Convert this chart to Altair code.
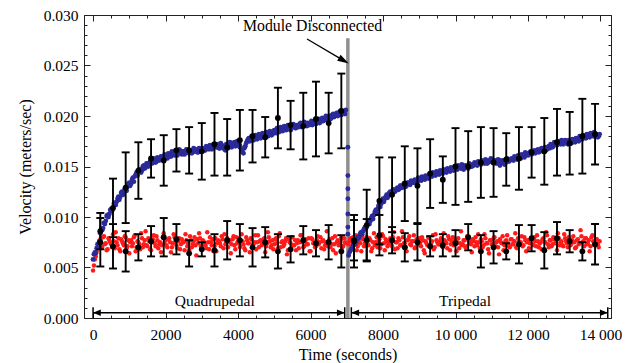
import altair as alt
import numpy as np
import pandas as pd

FONT = "Liberation Serif, Times New Roman, serif"
U = 1e-4  # all velocity lists below are written in units of 1e-4 m/s

# ---------------- raw samples (velocity x 1e-4 m/s) ----------------
# two interleaved sample sets per phase: "a" at t = 0, 50, ...  and "b" at t = 25, 75, ...
blue_quad_a = [
    58, 65, 69, 73, 84, 87, 94, 96, 102, 103, 108, 109, 114, 115, 120, 120, 125, 125, 129, 130,
    134, 133, 139, 140, 144, 144, 147, 146, 151, 149, 153, 152, 156, 154, 157, 155, 158, 157, 160, 158,
    161, 158, 162, 160, 164, 161, 165, 163, 166, 162, 165, 164, 167, 163, 166, 164, 165, 167, 164, 166,
    165, 168, 166, 169, 167, 170, 168, 171, 169, 172, 168, 171, 170, 166, 172, 170, 173, 171, 174, 172,
    175, 171, 166, 163, 170, 175, 178, 176, 179, 177, 180, 178, 181, 179, 182, 180, 183, 181, 184, 182,
    186, 183, 187, 185, 188, 186, 189, 187, 190, 186, 189, 191, 188, 190, 192, 189, 191, 193, 190, 192,
    193, 191, 194, 192, 195, 193, 197, 195, 198, 196, 199, 197, 201, 199, 202, 200, 204, 201, 205, 202,
]
blue_quad_b = [
    63, 64, 73, 76, 88, 89, 93, 101, 100, 107, 106, 113, 112, 118, 117, 124, 122, 128, 126, 133,
    131, 137, 135, 142, 141, 147, 144, 150, 148, 153, 150, 155, 153, 158, 154, 159, 156, 160, 157, 162,
    159, 163, 160, 165, 162, 166, 161, 167, 164, 165, 162, 167, 165, 166, 163, 168, 166, 164, 168, 165,
    167, 166, 170, 168, 171, 167, 172, 170, 170, 168, 173, 169, 167, 172, 168, 174, 169, 173, 170, 175,
    170, 168, 164, 168, 173, 177, 175, 180, 176, 181, 177, 182, 178, 183, 179, 184, 180, 185, 181, 185,
    184, 188, 184, 189, 185, 190, 186, 191, 187, 189, 192, 188, 191, 189, 193, 190, 194, 191, 193, 191,
    195, 192, 196, 193, 197, 194, 198, 196, 200, 197, 200, 198, 202, 200, 203, 201, 205, 203, 204, 206,
]
blue_switch = [169, 141, 128, 118, 103, 90, 83]
blue_trip_a = [
    62, 67, 69, 74, 75, 80, 81, 85, 86, 90,
    90, 95, 96, 101, 102, 107, 108, 113, 113, 118,
    118, 122, 121, 125, 124, 127, 126, 129, 128, 131,
    130, 132, 131, 134, 132, 135, 134, 136, 135, 138,
    136, 139, 137, 140, 138, 141, 140, 143, 141, 144,
    142, 145, 143, 146, 144, 147, 145, 148, 146, 149,
    147, 150, 148, 151, 149, 150, 148, 152, 150, 151,
    153, 151, 154, 152, 155, 153, 156, 154, 155, 157,
    154, 156, 155, 153, 156, 154, 152, 155, 157, 156,
    158, 156, 159, 157, 160, 158, 161, 159, 163, 161,
    164, 162, 165, 163, 166, 164, 167, 165, 168, 166,
    169, 168, 171, 170, 173, 171, 174, 172, 175, 173,
    174, 172, 175, 173, 176, 174, 177, 175, 179, 177,
    180, 178, 181, 179, 182, 180, 183, 181, 180,
]
blue_trip_b = [
    65, 68, 72, 73, 78, 79, 84, 83, 88, 89,
    93, 93, 99, 98, 105, 104, 111, 110, 116, 115,
    120, 119, 124, 122, 127, 125, 128, 127, 131, 129,
    133, 130, 134, 133, 136, 134, 137, 135, 139, 137,
    140, 138, 141, 139, 142, 141, 144, 142, 145, 143,
    146, 144, 147, 145, 148, 147, 149, 147, 150, 148,
    151, 149, 152, 147, 151, 149, 153, 150, 152, 154,
    152, 155, 153, 156, 154, 157, 153, 156, 158, 155,
    155, 153, 157, 151, 154, 156, 153, 158, 155, 157,
    157, 160, 158, 161, 159, 162, 160, 164, 162, 163,
    165, 163, 166, 164, 167, 165, 168, 166, 169, 167,
    170, 172, 169, 174, 172, 175, 173, 176, 172, 176,
    173, 176, 174, 177, 175, 178, 176, 180, 178, 181,
    179, 182, 180, 183, 181, 184, 182, 179, 182,
]
red_quad_a = [
    47, 58, 66, 72, 78, 70, 81, 74, 68, 77,
    73, 83, 69, 75, 79, 66, 76, 72, 80, 71,
    64, 77, 74, 82, 70, 75, 68, 79, 73, 86,
    71, 76, 67, 78, 74, 81, 69, 75, 72, 84,
    77, 70, 79, 65, 74, 80, 72, 76, 68, 78,
    75, 83, 71, 67, 77, 73, 80, 62, 74, 79,
    70, 76, 72, 85, 68, 75, 78, 71, 66, 77,
    74, 81, 69, 73, 79, 75, 64, 78, 72, 80,
    76, 70, 83, 73, 67, 77, 74, 79, 71, 75,
    68, 82, 76, 72, 78, 65, 74, 80, 70, 77,
    73, 79, 69, 84, 75, 71, 76, 63, 78, 74,
    80, 72, 67, 77, 75, 82, 70, 76, 73, 79,
    66, 78, 74, 71, 81, 75, 69, 77, 72, 86,
    76, 70, 79, 73, 64, 77, 74, 80, 71, 75,
]
red_quad_b = [
    52, 61, 70, 76, 71, 80, 73, 67, 79, 75,
    70, 76, 85, 72, 68, 78, 74, 81, 69, 77,
    75, 71, 80, 66, 76, 73, 84, 70, 77, 72,
    79, 68, 75, 82, 71, 77, 73, 65, 80, 74,
    72, 78, 75, 70, 83, 76, 69, 79, 73, 75,
    67, 77, 74, 81, 70, 76, 72, 78, 84, 71,
    77, 73, 69, 75, 80, 72, 66, 79, 74, 76,
    71, 78, 83, 75, 70, 77, 73, 81, 68, 74,
    79, 72, 76, 69, 80, 74, 65, 78, 73, 82,
    75, 70, 77, 73, 79, 71, 85, 76, 72, 68,
    78, 74, 81, 70, 76, 73, 79, 67, 75, 80,
    72, 77, 74, 69, 82, 75, 71, 78, 73, 66,
    79, 74, 70, 77, 73, 80, 76, 68, 75, 71,
    78, 73, 67, 81, 75, 72, 77, 70, 79, 74,
]
red_trip_a = [
    73, 79, 68, 76, 82, 71, 75, 66, 78, 74,
    80, 72, 77, 69, 84, 75, 70, 78, 73, 81,
    67, 76, 74, 79, 71, 85, 75, 69, 77, 72,
    80, 74, 66, 78, 73, 76, 82, 70, 75, 79,
    71, 77, 64, 74, 80, 72, 76, 68, 83, 75,
    73, 79, 70, 77, 74, 81, 67, 76, 72, 78,
    75, 69, 86, 73, 77, 71, 79, 74, 65, 76,
    80, 72, 75, 78, 70, 83, 74, 68, 77, 73,
    79, 71, 76, 63, 75, 81, 72, 77, 74, 70,
    78, 73, 84, 69, 76, 75, 71, 80, 66, 77,
    74, 79, 72, 76, 82, 70, 75, 78, 68, 85,
    73, 77, 71, 80, 74, 67, 79, 75, 72, 83,
    76, 70, 78, 74, 81, 69, 77, 73, 87, 75,
    71, 79, 74, 66, 80, 76, 72, 78, 70,
]
red_trip_b = [
    76, 70, 80, 73, 67, 78, 74, 81, 71, 77,
    73, 79, 66, 75, 72, 80, 76, 69, 83, 74,
    78, 71, 77, 73, 80, 68, 75, 79, 72, 86,
    74, 70, 77, 81, 72, 76, 69, 78, 73, 75,
    80, 67, 76, 72, 79, 74, 82, 70, 77, 73,
    76, 71, 84, 75, 69, 78, 73, 80, 75, 66,
    79, 74, 72, 77, 70, 81, 76, 73, 78, 71,
    75, 83, 69, 76, 72, 79, 74, 64, 77, 73,
    80, 75, 70, 78, 74, 67, 76, 82, 71, 78,
    73, 76, 70, 79, 74, 81, 72, 77, 75, 69,
    78, 73, 80, 71, 76, 74, 68, 79, 75, 82,
    70, 77, 73, 78, 75, 84, 72, 76, 71, 79,
    74, 80, 72, 77, 75, 70, 78, 74, 81, 76,
    79, 73, 77, 71, 82, 75, 78, 73, 76,
]
t_quad_a = list(range(0, 7000, 50))
t_quad_b = list(range(25, 7000, 50))
t_trip_a = list(range(7050, 14000, 50))
t_trip_b = list(range(7075, 14000, 50))
t_switch = [7030] * len(blue_switch)

# ---------------- binned means with error bars ----------------
eb_t_quad = [200, 550, 900, 1250, 1600, 1950, 2300, 2650, 3000, 3350,
             3700, 4050, 4400, 4750, 5100, 5450, 5800, 6150, 6500, 6850]
eb_t_trip = [7200, 7550, 7900, 8250, 8600, 8950, 9300, 9650, 10000, 10350,
             10700, 11050, 11400, 11750, 12100, 12450, 12800, 13150, 13500, 13850]
blue_quad_mean = [86, 109, 129, 146, 158, 156, 166, 166, 165, 172, 169, 176, 180, 179, 198, 191, 190, 197, 193, 205]
blue_quad_err = [18, 29, 35, 28, 19, 25, 21, 23, 28, 31, 28, 30, 26, 20, 30, 24, 33, 37, 30, 37]
blue_trip_mean = [76, 92, 116, 122, 133, 131, 143, 137, 150, 150, 154, 154, 157, 158, 164, 165, 174, 173, 180, 182]
blue_trip_err = [26, 35, 43, 37, 37, 37, 34, 23, 38, 35, 35, 34, 26, 31, 25, 33, 33, 31, 37, 30]
red_quad_mean = [75, 71, 66, 70, 76, 80, 78, 64, 68, 67, 77, 77, 70, 75, 66, 68, 77, 74, 75, 66]
red_quad_err = [24, 22, 20, 13, 15, 19, 15, 13, 7, 16, 19, 16, 19, 15, 17, 13, 14, 13, 17, 16]
red_trip_mean = [77, 77, 82, 77, 70, 75, 71, 72, 74, 80, 66, 70, 66, 73, 79, 67, 79, 76, 66, 73]
red_trip_err = [20, 21, 20, 13, 14, 18, 10, 11, 13, 13, 16, 16, 8, 19, 13, 18, 16, 11, 9, 20]

# ---------------- annotations ----------------
switch_t = 7030
switch_top = 0.0277
phase_names = ["Quadrupedal", "Tripedal"]
phase_start = [0, 7126]
phase_end = [6943, 14200]
phase_label_t = [3357, 10262]
phase_arrow_v = 0.00052
phase_label_v = 0.00168
note_text = "Module Disconnected"
note_t, note_v = 6055, 0.02891
note_arrow_from = (5903, 0.02762)
note_arrow_to = (6918, 0.02548)

x_major = [0, 2000, 4000, 6000, 8000, 10000, 12000, 14000]
x_minor = list(range(0, 14001, 500))
y_major = [0.000, 0.005, 0.010, 0.015, 0.020, 0.025, 0.030]
y_minor = [round(i * 0.001, 3) for i in range(0, 31)]

# ---------------- tables ----------------
dots_blue = pd.DataFrame({
    "t": t_quad_a + t_quad_b + t_switch + t_trip_a + t_trip_b,
    "v": np.array(blue_quad_a + blue_quad_b + blue_switch + blue_trip_a + blue_trip_b) * U,
})
dots_red = pd.DataFrame({
    "t": t_quad_a + t_quad_b + t_trip_a + t_trip_b,
    "v": np.array(red_quad_a + red_quad_b + red_trip_a + red_trip_b) * U,
})
m = np.array(blue_quad_mean + blue_trip_mean + red_quad_mean + red_trip_mean) * U
e = np.array(blue_quad_err + blue_trip_err + red_quad_err + red_trip_err) * U
eb = pd.DataFrame({
    "t": (eb_t_quad + eb_t_trip) * 2,
    "m": m, "lo": m - e, "hi": m + e,
})

xscale = alt.Scale(domain=[-250, 14290], nice=False, zero=False)
yscale = alt.Scale(domain=[0, 0.030], nice=False, zero=False)


def X(f="t"):
    return alt.X(f"{f}:Q", scale=xscale, axis=None)


def Y(f="v"):
    return alt.Y(f"{f}:Q", scale=yscale, axis=None)


gray = alt.Chart(pd.DataFrame({"t": [switch_t], "v0": [0.0], "v1": [switch_top]})).mark_rule(
    color="#8f8f8f", strokeWidth=3.5).encode(x=X(), y=Y("v0"), y2="v1:Q")

red_pts = alt.Chart(dots_red).mark_circle(size=20, color="#ff1a1a", opacity=1).encode(x=X(), y=Y())
blue_pts = alt.Chart(dots_blue).mark_circle(size=24, color="#2a2a9a", opacity=1).encode(x=X(), y=Y())

eb_rule = alt.Chart(eb).mark_rule(color="black", strokeWidth=1.9).encode(x=X(), y=Y("lo"), y2="hi:Q")
eb_lo = alt.Chart(eb).mark_tick(color="black", thickness=1.9, size=8, orient="horizontal", opacity=1).encode(x=X(), y=Y("lo"))
eb_hi = alt.Chart(eb).mark_tick(color="black", thickness=1.9, size=8, orient="horizontal", opacity=1).encode(x=X(), y=Y("hi"))
eb_pt = alt.Chart(eb).mark_circle(color="black", size=34, opacity=1).encode(x=X(), y=Y("m"))

phase = pd.DataFrame({"name": phase_names, "a": phase_start, "b": phase_end,
                      "lt": phase_label_t, "v": [phase_arrow_v] * 2, "lv": [phase_label_v] * 2})
ph_line = alt.Chart(phase).mark_rule(color="black", strokeWidth=1.5).encode(x=X("a"), x2="b:Q", y=Y())
HEAD = "M0,-1L0.85,1L-0.85,1Z"
ph_head_l = alt.Chart(phase).mark_point(shape=HEAD, size=60, angle=270, filled=True, color="black",
                                        opacity=1, xOffset=3.9).encode(x=X("a"), y=Y())
ph_head_r = alt.Chart(phase).mark_point(shape=HEAD, size=60, angle=90, filled=True, color="black",
                                        opacity=1, xOffset=-3.9).encode(x=X("b"), y=Y())
ph_bar_l = alt.Chart(phase).mark_tick(color="black", thickness=1.5, size=11, orient="vertical", opacity=1).encode(x=X("a"), y=Y())
ph_bar_r = alt.Chart(phase).mark_tick(color="black", thickness=1.5, size=11, orient="vertical", opacity=1).encode(x=X("b"), y=Y())
ph_text = alt.Chart(phase).mark_text(font=FONT, fontSize=15.5, color="black", baseline="middle").encode(
    x=X("lt"), y=Y("lv"), text="name:N")

note = pd.DataFrame({"t": [note_t], "v": [note_v], "txt": [note_text],
                     "t0": [note_arrow_from[0]], "v0": [note_arrow_from[1]],
                     "t1": [note_arrow_to[0]], "v1": [note_arrow_to[1]]})
note_text_l = alt.Chart(note).mark_text(font=FONT, fontSize=15.8, color="black", baseline="middle").encode(
    x=X(), y=Y(), text="txt:N")
note_line = alt.Chart(note).mark_rule(color="black", strokeWidth=1.3).encode(x=X("t0"), x2="t1:Q", y=Y("v0"), y2="v1:Q")
note_head = alt.Chart(note).mark_point(shape="M0,-1L0.6,1L-0.6,1Z", size=130, angle=120, filled=True,
                                       color="black", opacity=1).encode(x=X("t1"), y=Y("v1"))

# ---------------- axes (separate, tick-only layers give inward ticks) ----------------
axis_df = pd.DataFrame({"t": [0], "v": [0.0]})


def axis_layer(xaxis=None, yaxis=None):
    return alt.Chart(axis_df).mark_point(opacity=0).encode(
        x=alt.X("t:Q", scale=xscale, axis=xaxis), y=alt.Y("v:Q", scale=yscale, axis=yaxis))


common = dict(domain=False, grid=False, tickColor="#222", tickWidth=1)
x_lab = axis_layer(xaxis=alt.Axis(
    orient="bottom", values=x_major, ticks=False, domain=False, grid=False,
    labelExpr="datum.value >= 10000 ? floor(datum.value/1000) + ' 000' : '' + datum.value",
    labelFont=FONT, labelFontSize=15.5, labelColor="black", labelPadding=9,
    title="Time (seconds)", titleFont=FONT, titleFontSize=16, titleFontWeight="normal",
    titleColor="black", titlePadding=4))
y_lab = axis_layer(yaxis=alt.Axis(
    orient="left", values=y_major, format=".3f", ticks=False, domain=False, grid=False,
    labelFont=FONT, labelFontSize=15.5, labelColor="black", labelPadding=6,
    title="Velocity (meters/sec)", titleFont=FONT, titleFontSize=16, titleFontWeight="normal",
    titleColor="black", titlePadding=10))
tick_layers = []
for orient in ["bottom", "top"]:
    tick_layers.append(axis_layer(xaxis=alt.Axis(orient=orient, values=x_major, labels=False, title=None,
                                                 tickSize=6, offset=-6, **common)))
    tick_layers.append(axis_layer(xaxis=alt.Axis(orient=orient, values=x_minor, labels=False, title=None,
                                                 tickSize=3, offset=-3, **common)))
for orient in ["left", "right"]:
    tick_layers.append(axis_layer(yaxis=alt.Axis(orient=orient, values=y_major, labels=False, title=None,
                                                 tickSize=6, offset=-6, **common)))
    tick_layers.append(axis_layer(yaxis=alt.Axis(orient=orient, values=y_minor, labels=False, title=None,
                                                 tickSize=3, offset=-3, **common)))

chart = alt.layer(
    gray, red_pts, blue_pts, eb_rule, eb_lo, eb_hi, eb_pt,
    ph_line, ph_head_l, ph_head_r, ph_bar_l, ph_bar_r, ph_text,
    note_line, note_head, note_text_l,
    x_lab, y_lab, *tick_layers,
).resolve_axis(x="independent", y="independent").properties(
    width=527, height=303,
    padding={"left": 9, "top": 0, "right": 5, "bottom": 2},
).configure_view(stroke="#222", strokeWidth=1)

chart.save("out.html", embed_options={"renderer": "svg", "actions": False})
